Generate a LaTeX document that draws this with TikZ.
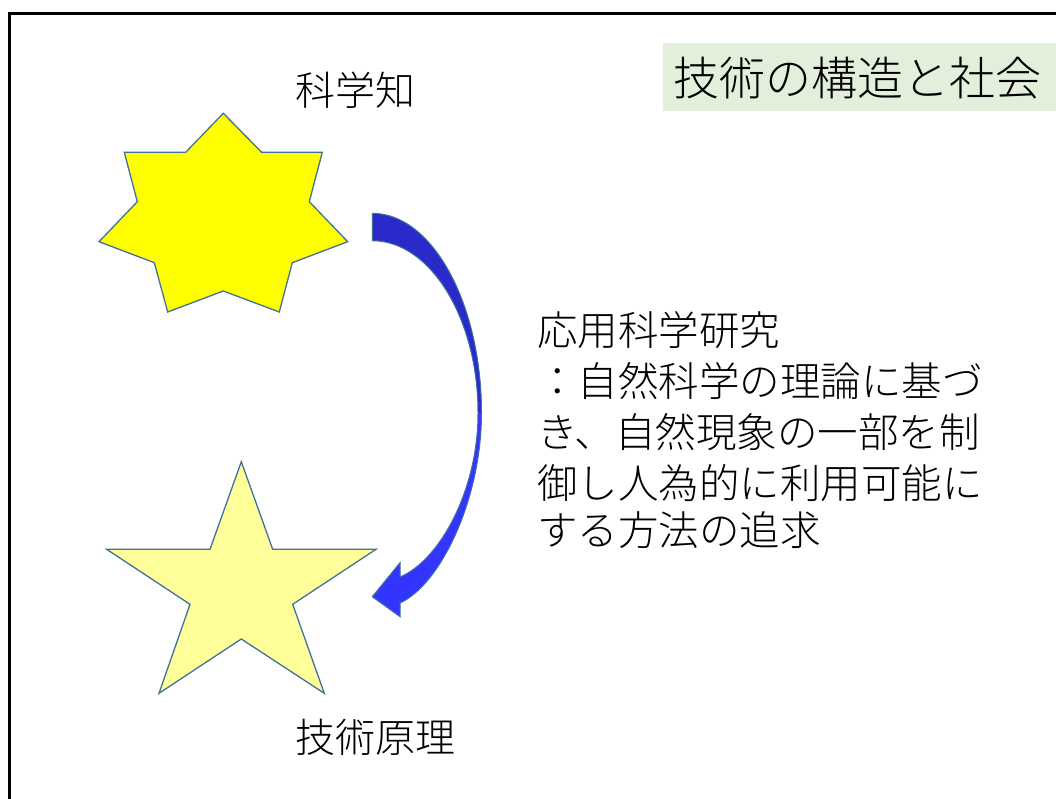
\documentclass[tikz,border=0pt]{standalone}
\usepackage{fontspec}
\IfFontExistsTF{Noto Sans CJK JP Light}
  {\newfontfamily\jpfont{Noto Sans CJK JP Light}}
  {\newfontfamily\jpfont{Noto Sans CJK JP}}
\definecolor{outl}{HTML}{41719C}
\definecolor{heptfill}{HTML}{FFFF00}
\definecolor{starfill}{HTML}{FFFF99}
\definecolor{arrowdark}{HTML}{2A2ACA}
\definecolor{arrowlight}{HTML}{3434FF}
\definecolor{titlebg}{HTML}{E2EFDA}
\tikzset{
  shapeline/.style={draw=outl, line width=1.3pt, line join=miter},
  txt/.style={inner sep=0pt, anchor=base west, text=black},
  bigtxt/.style={txt, font=\jpfont\fontsize{40}{48}\selectfont},
  bodytxt/.style={txt, font=\jpfont\fontsize{40.5}{50}\selectfont},
  titletxt/.style={txt, font=\jpfont\fontsize{46}{55}\selectfont},
}
\begin{document}
\begin{tikzpicture}[x=1pt,y=-1pt]
\useasboundingbox (0,0) rectangle (1056,798);
\clip (0,0) rectangle (1056,798);
% frame
\draw[line width=3pt] (9,805) -- (9,13) -- (1065,13);
% title box
\fill[titlebg] (662.7,42.7) rectangle (1065,110.7);
\node[titletxt] (title) at (673,95.5) {技術の構造と社会};
% heptagram (scientific knowledge)
\filldraw[shapeline, fill=heptfill]
  (223.3,113.3) -- (261.7,152.3) -- (322.3,152.3) -- (309.3,201.7)
  -- (347.7,241.7) -- (292.3,262.7) -- (279.3,312) -- (223.3,291)
  -- (167.7,312) -- (154.3,262.7) -- (99,241.7) -- (137.3,201.7)
  -- (124.3,152.3) -- (185.7,152.3) -- cycle;
\coordinate (hept) at (223.3,215);
% five-point star (technical principle)
\filldraw[shapeline, fill=starfill]
  (241.3,461.7) -- (272.7,549.3) -- (376,549.3) -- (292.7,604.3)
  -- (324.3,693.3) -- (241.3,639) -- (159,693.3) -- (190,604.3)
  -- (106.7,549.3) -- (210,549.3) -- cycle;
\coordinate (star) at (241.3,590);
% labels
\node[bigtxt] (sci) at (295,105.7) {科学知};
\node[bigtxt] (tech) at (295,752) {技術原理};
% curved arrow: upper (darker) part
\fill[arrowdark]
  (372.3,213.3) .. controls (432,213.3) and (481.5,303) .. (481.5,413)
  -- (478,413) .. controls (478,318) and (430,240.7) .. (372.3,240.7) -- cycle;
% lower part with head
\fill[arrowlight]
  (481.5,413) .. controls (481.5,500) and (440,585) .. (400,603)
  -- (400,616.7) -- (372.3,596.7) -- (400,562.7) -- (400,577)
  .. controls (440,560) and (478,490) .. (478,413) -- cycle;
% outline
\draw[shapeline, line width=1pt]
  (372.3,213.3) .. controls (432,213.3) and (481.5,303) .. (481.5,413)
  .. controls (481.5,500) and (440,585) .. (400,603)
  -- (400,616.7) -- (372.3,596.7) -- (400,562.7) -- (400,577)
  .. controls (440,560) and (478,490) .. (478,413)
  .. controls (478,318) and (430,240.7) .. (372.3,240.7) -- cycle;
% description
\node[bodytxt] (d1) at (537,345.4) {応用科学研究};
\node[bodytxt] (d2) at (537,396.4) {：自然科学の理論に基づ};
\node[bodytxt] (d3) at (537,447.4) {き、自然現象の一部を制};
\node[bodytxt] (d4) at (537,498.4) {御し人為的に利用可能に};
\node[bodytxt] (d5) at (537,545.4) {する方法の追求};
\end{tikzpicture}
\end{document}
